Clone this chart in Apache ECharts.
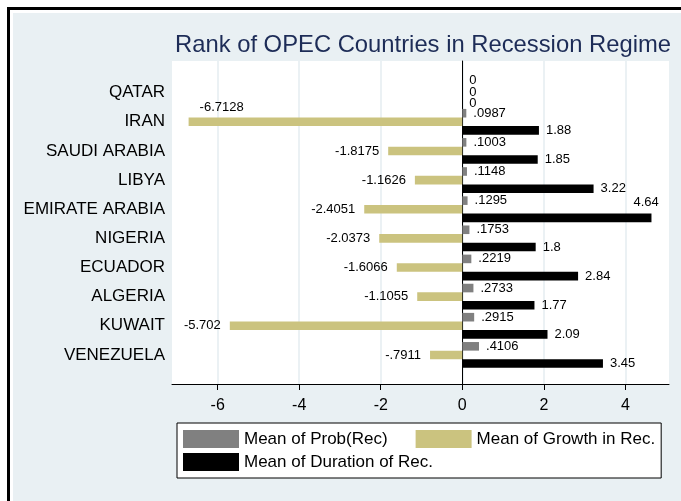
<!DOCTYPE html>
<html>
<head>
<meta charset="utf-8">
<script src="https://cdn.jsdelivr.net/npm/echarts@6/dist/echarts.min.js"></script>
<style>
html,body{margin:0;padding:0;background:#fff;}
#chart{width:681px;height:501px;}
</style>
</head>
<body>
<div id="chart"></div>
<script>
// ---- data ----
const countries = ['QATAR','IRAN','SAUDI ARABIA','LIBYA','EMIRATE ARABIA','NIGERIA','ECUADOR','ALGERIA','KUWAIT','VENEZUELA'];
const probRec = [0, 0.0987, 0.1003, 0.1148, 0.1295, 0.1753, 0.2219, 0.2733, 0.2915, 0.4106];
const growthRec = [0, -6.7128, -1.8175, -1.1626, -2.4051, -2.0373, -1.6066, -1.1055, -5.702, -0.7911];
const durationRec = [0, 1.88, 1.85, 3.22, 4.64, 1.8, 2.84, 1.77, 2.09, 3.45];
const xTicks = [-6, -4, -2, 0, 2, 4];
const seriesNames = ['Mean of Prob(Rec)', 'Mean of Growth in Rec.', 'Mean of Duration of Rec.'];
const titleText = 'Rank of OPEC Countries in Recession Regime';

// ---- styling ----
const FONT = '"Liberation Sans", Arial, sans-serif';
const X_MIN = -7.12, X_MAX = 5.07;
const fmt = v => {
  if (v === 0) return '0';
  let s = String(v);
  return s.replace(/^(-?)0\./, '$1.');
};

function buildData(values, overrides) {
  return values.map((v, i) => {
    const o = { value: v };
    if (overrides[i]) o.label = overrides[i];
    return o;
  });
}

const probOverrides = { 0: { offset: [0, -4] } };
const growthOverrides = {
  0: { position: 'right', distance: 7 },
  1: { position: 'insideLeft', distance: 5, offset: [6, -14.5] }
};
const durationOverrides = {
  0: { offset: [0, 2] },
  4: { position: 'right', distance: 7, offset: [-25, -15] }
};

const labelBase = {
  show: true, fontSize: 13, color: '#000', fontFamily: FONT,
  formatter: p => fmt(p.value)
};

const chart = echarts.init(document.getElementById('chart'), null, { renderer: 'canvas' });
const option = {
  backgroundColor: '#ffffff',
  animation: false,
  textStyle: { fontFamily: FONT },
  graphic: [
    { type: 'rect', z: -10, silent: true, shape: { x: 13, y: 13, width: 681, height: 501 }, style: { fill: '#e9f0f3' } },
    { type: 'rect', z: -10, silent: true, shape: { x: 7, y: 7, width: 681, height: 3 }, style: { fill: '#000' } },
    { type: 'rect', z: -10, silent: true, shape: { x: 7, y: 7, width: 3, height: 501 }, style: { fill: '#000' } }
  ],
  title: {
    text: titleText,
    left: 175, top: 33, padding: 0,
    textStyle: { fontSize: 23.8, fontWeight: 'normal', color: '#1d2c57', fontFamily: FONT }
  },
  legend: [
    {
      data: [seriesNames[0], seriesNames[1]],
      left: 177, top: 423, orient: 'horizontal',
      itemWidth: 56, itemHeight: 18, itemGap: 28,
      padding: [7, 6, 30, 6],
      backgroundColor: '#fff', borderColor: '#000', borderWidth: 1, borderRadius: 0,
      icon: 'rect',
      textStyle: { fontSize: 17, color: '#000', fontFamily: FONT },
      selectedMode: false
    },
    {
      data: [seriesNames[2]],
      left: 183, top: 453, orient: 'horizontal', z: 20,
      itemWidth: 56, itemHeight: 18, padding: 0,
      icon: 'rect',
      textStyle: { fontSize: 17, color: '#000', fontFamily: FONT },
      selectedMode: false
    }
  ],
  grid: [
    { left: 172, right: 12, top: 61, bottom: 117, show: true, backgroundColor: '#fff', borderWidth: 0, containLabel: false },
    { left: 172, right: 12, top: 78.1, height: 291.4, containLabel: false }
  ],
  xAxis: [
    {
      gridIndex: 0, type: 'value', min: X_MIN, max: X_MAX,
      axisLine: { show: true, onZero: false, lineStyle: { color: '#000', width: 1 } },
      axisTick: { show: true, length: 6, customValues: xTicks, lineStyle: { color: '#000' } },
      axisLabel: { show: true, customValues: xTicks, fontSize: 16, color: '#000', margin: 14, fontFamily: FONT },
      splitLine: { show: true, lineStyle: { color: '#e4edf1', width: 1.5 } }
    },
    {
      gridIndex: 1, type: 'value', min: X_MIN, max: X_MAX, show: false,
      splitLine: { show: false }
    }
  ],
  yAxis: [
    {
      gridIndex: 0, type: 'value', min: 0, max: 1,
      axisLine: { show: true, lineStyle: { color: '#000', width: 1 } },
      axisTick: { show: false }, axisLabel: { show: false }, splitLine: { show: false }
    },
    {
      gridIndex: 1, type: 'category', data: countries, inverse: true,
      axisLine: { show: false }, axisTick: { show: false },
      axisLabel: { fontSize: 17, color: '#000', margin: 7, fontFamily: FONT },
      splitLine: { show: false }
    }
  ],
  series: [
    {
      name: seriesNames[0], type: 'bar', xAxisIndex: 1, yAxisIndex: 1,
      barWidth: 8.6, barGap: '0%',
      itemStyle: { color: '#808080' },
      label: Object.assign({}, labelBase, { position: 'right', distance: 7 }),
      data: buildData(probRec, probOverrides)
    },
    {
      name: seriesNames[1], type: 'bar', xAxisIndex: 1, yAxisIndex: 1,
      barWidth: 8.6, barGap: '0%',
      itemStyle: { color: '#cbc37f' },
      label: Object.assign({}, labelBase, { position: 'left', distance: 9 }),
      data: buildData(growthRec, growthOverrides)
    },
    {
      name: seriesNames[2], type: 'bar', xAxisIndex: 1, yAxisIndex: 1,
      barWidth: 8.6, barGap: '0%',
      itemStyle: { color: '#000000' },
      label: Object.assign({}, labelBase, { position: 'right', distance: 7 }),
      data: buildData(durationRec, durationOverrides)
    }
  ]
};
chart.setOption(option);
</script>
</body>
</html>
